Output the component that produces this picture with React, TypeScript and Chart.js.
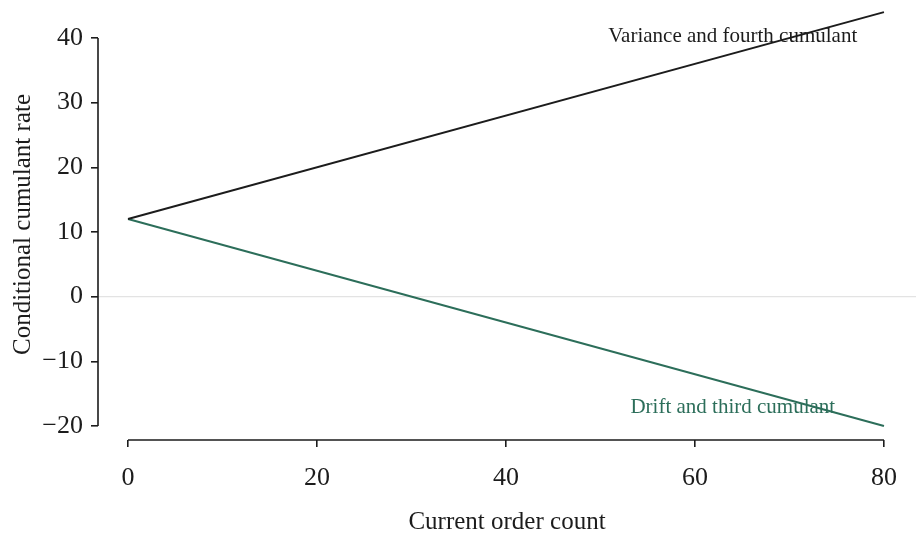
import React, { useEffect, useRef } from "react";
import { Chart, registerables } from "chart.js";

Chart.register(...registerables);

const orderCount = [0, 80];
const varianceRate = [12, 44];
const driftRate = [12, -20];
const xTickValues = [0, 20, 40, 60, 80];
const yTickValues = [-20, -10, 0, 10, 20, 30, 40];
const labelTexts = ["Variance and fourth cumulant", "Drift and third cumulant"];
const labelX = [64, 64];
const labelY = [40.3, -17.2];

const FONT = "'Liberation Serif', 'Times New Roman', serif";
const INK = "#1c1c1c";
const GREEN = "#2c6e5a";

export default function App() {
  const ref = useRef<HTMLCanvasElement | null>(null);
  useEffect(() => {
    document.body.style.margin = "0";
    document.body.style.overflow = "hidden";
    const canvas = ref.current;
    if (!canvas) return;

    const decor = {
      id: "decor",
      beforeDatasetsDraw(chart: any) {
        const { ctx, chartArea, scales } = chart;
        const x = scales.x;
        const y = scales.y;
        ctx.save();
        // zero line
        ctx.strokeStyle = "#e3e3e3";
        ctx.lineWidth = 1.2;
        ctx.beginPath();
        ctx.moveTo(chartArea.left, y.getPixelForValue(0));
        ctx.lineTo(chartArea.right, y.getPixelForValue(0));
        ctx.stroke();
        // spines
        ctx.strokeStyle = INK;
        ctx.lineWidth = 1.6;
        ctx.beginPath();
        ctx.moveTo(chartArea.left, y.getPixelForValue(yTickValues[0]));
        ctx.lineTo(chartArea.left, y.getPixelForValue(yTickValues[yTickValues.length - 1]));
        ctx.moveTo(x.getPixelForValue(xTickValues[0]), chartArea.bottom);
        ctx.lineTo(x.getPixelForValue(xTickValues[xTickValues.length - 1]), chartArea.bottom);
        ctx.stroke();
        // labels
        ctx.font = `21px ${FONT}`;
        ctx.textAlign = "center";
        ctx.textBaseline = "middle";
        const colors = [INK, GREEN];
        labelTexts.forEach((t, i) => {
          ctx.fillStyle = colors[i];
          ctx.fillText(t, x.getPixelForValue(labelX[i]), y.getPixelForValue(labelY[i]));
        });
        ctx.restore();
      },
    };

    const chart = new Chart(canvas, {
      type: "line",
      data: {
        datasets: [
          {
            label: "Variance and fourth cumulant",
            data: orderCount.map((v, i) => ({ x: v, y: varianceRate[i] })),
            borderColor: INK,
            borderWidth: 2,
            pointRadius: 0,
            fill: false,
          },
          {
            label: "Drift and third cumulant",
            data: orderCount.map((v, i) => ({ x: v, y: driftRate[i] })),
            borderColor: GREEN,
            borderWidth: 2,
            pointRadius: 0,
            fill: false,
          },
        ],
      },
      options: {
        animation: false,
        responsive: false,
        layout: { padding: { top: 9, right: 0, left: 0, bottom: 0 } },
        plugins: { legend: { display: false }, tooltip: { enabled: false } },
        scales: {
          x: {
            type: "linear",
            min: -3.175,
            max: 83.39,
            afterBuildTicks: (s: any) => {
              s.ticks = xTickValues.map((v) => ({ value: v }));
            },
            afterFit: (s: any) => {
              s.height = 96;
              s.paddingLeft = 0;
              s.paddingRight = 0;
            },
            border: { display: false },
            grid: { drawOnChartArea: false, drawTicks: true, tickLength: 7, color: INK, lineWidth: 1.6 },
            ticks: { font: { family: FONT, size: 26 }, color: INK, padding: 16, maxRotation: 0 },
            title: {
              display: true,
              text: "Current order count",
              font: { family: FONT, size: 25 },
              color: INK,
              padding: { top: 8, bottom: -1 },
            },
          },
          y: {
            type: "linear",
            min: -22.165,
            max: 44.48,
            afterBuildTicks: (s: any) => {
              s.ticks = yTickValues.map((v) => ({ value: v }));
            },
            afterFit: (s: any) => {
              s.width = 98;
              s.paddingTop = 0;
              s.paddingBottom = 0;
            },
            border: { display: false },
            grid: { drawOnChartArea: false, drawTicks: true, tickLength: 7, color: INK, lineWidth: 1.6 },
            ticks: {
              font: { family: FONT, size: 26 },
              color: INK,
              padding: 8,
              callback: (v: any) => (Number(v) < 0 ? "\u2212" + Math.abs(Number(v)) : String(v)),
            },
            title: {
              display: true,
              text: "Conditional cumulant rate",
              font: { family: FONT, size: 25 },
              color: INK,
              padding: { top: 8, bottom: 4 },
            },
          },
        },
      },
      plugins: [decor],
    });
    return () => chart.destroy();
  }, []);

  return (
    <div style={{ width: 916, height: 536 }}>
      <canvas ref={ref} width={916} height={536} style={{ display: "block" }} />
    </div>
  );
}
